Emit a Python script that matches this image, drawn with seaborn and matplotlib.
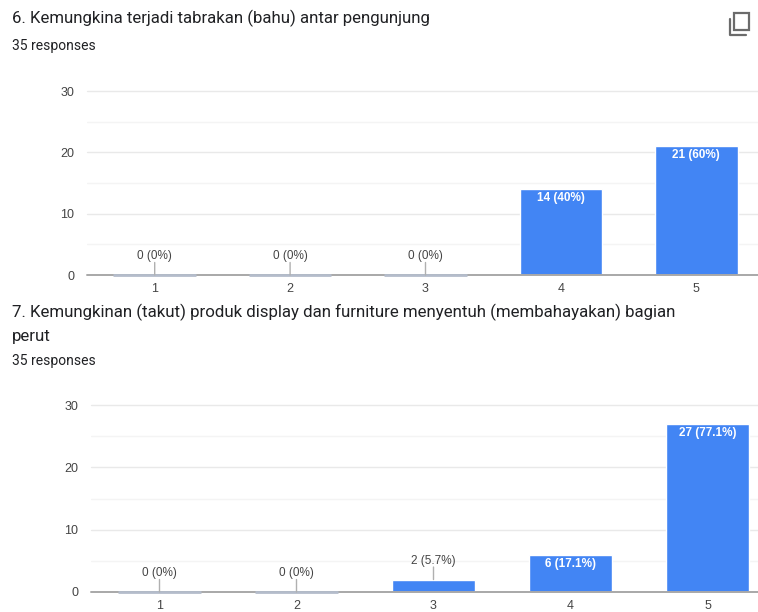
import matplotlib
matplotlib.use("Agg")
import matplotlib.pyplot as plt
import seaborn as sns
import pandas as pd
from matplotlib.patches import Rectangle
from matplotlib.lines import Line2D

sns.set_theme(style="white")
plt.rcParams['font.family'] = ['Liberation Sans', 'DejaVu Sans']

categories = ["1", "2", "3", "4", "5"]
q6_counts = [0, 0, 0, 14, 21]
q6_labels = ["0 (0%)", "0 (0%)", "0 (0%)", "14 (40%)", "21 (60%)"]
q7_counts = [0, 0, 2, 6, 27]
q7_labels = ["0 (0%)", "0 (0%)", "2 (5.7%)", "6 (17.1%)", "27 (77.1%)"]
yticks = [0, 10, 20, 30]
q6_title = "6. Kemungkina terjadi tabrakan (bahu) antar pengunjung"
q7_title = "7. Kemungkinan (takut) produk display dan furniture menyentuh (membahayakan) bagian\nperut"
responses = "35 responses"

BLUE = "#4285f4"
W, H = 758, 612
fig = plt.figure(figsize=(W / 100, H / 100), dpi=100)
fig.patch.set_facecolor("white")


def draw(rect, xmax, counts, labels):
    ax = fig.add_axes(rect)
    df = pd.DataFrame({"cat": categories, "n": counts})
    sns.barplot(data=df, x="cat", y="n", order=categories, color=BLUE,
                saturation=1, width=0.61, ax=ax, zorder=3)
    ax.set_xlim(-0.5, xmax)
    ax.set_ylim(0, 30)
    for s in ax.spines.values():
        s.set_visible(False)
    ax.set_xlabel("")
    ax.set_ylabel("")
    ax.set_yticks(yticks)
    ax.set_yticklabels([str(t) for t in yticks], fontsize=9, color="#444444")
    ax.set_xticks(range(len(categories)))
    ax.set_xticklabels(categories, fontsize=9, color="#444444")
    ax.tick_params(axis="both", length=0)
    ax.tick_params(axis="y", pad=9)
    ax.tick_params(axis="x", pad=6)
    for g in [5, 15, 25]:
        ax.axhline(g, color="#f4f4f4", lw=1, zorder=0)
    for g in [10, 20, 30]:
        ax.axhline(g, color="#e9e9e9", lw=1, zorder=0, clip_on=False)
    ax.axhline(0, color="#a8a8a8", lw=1.4, zorder=4, clip_on=False)
    for i, (c, lab) in enumerate(zip(counts, labels)):
        if c == 0:
            ax.hlines(0, i - 0.305, i + 0.305, color="#b4bccb", lw=2,
                      zorder=5, clip_on=False)
        if c < 4:
            ax.annotate("", xy=(i, c), xytext=(0, 9), textcoords="offset points",
                        arrowprops=dict(arrowstyle="-", color="#b0b0b0", lw=1,
                                        shrinkA=0, shrinkB=0), zorder=6)
            ax.annotate(lab, xy=(i, c), xytext=(0, 13.5), textcoords="offset points",
                        ha="center", va="center", fontsize=8.5, color="#444444",
                        zorder=6)
        else:
            ax.annotate(lab, xy=(i, c), xytext=(0, -6.5), textcoords="offset points",
                        ha="center", va="center", fontsize=8.5, color="white",
                        fontweight="bold", zorder=6)
    return ax


# chart 1: axis x from 87 px, spacing 135.4 px; y 0 at 275, 30 at 91
draw([87 / W, 1 - 275 / H, (W - 87) / W, (275 - 91) / H], -0.5 + (W - 87) / 135.4,
     q6_counts, q6_labels)
# chart 2: axis x from 91 px, spacing 137 px; y 0 at 592, 30 at 405
draw([91 / W, 1 - 592 / H, (W - 91) / W, (592 - 405) / H], -0.5 + (W - 91) / 137,
     q7_counts, q7_labels)

title_font = ['Roboto', 'DejaVu Sans']
fig.text(12 / W, 1 - 18 / H, q6_title, fontsize=12.1, color="#202124",
         family=title_font, va="center", ha="left")
fig.text(12 / W, 1 - 46 / H, responses, fontsize=10, color="#202124",
         family=title_font, va="center", ha="left")
fig.text(12 / W, 1 - 324 / H, q7_title, fontsize=12.2, color="#202124",
         family=title_font, va="center", ha="left", linespacing=1.65)
fig.text(12 / W, 1 - 361 / H, responses, fontsize=10, color="#202124",
         family=title_font, va="center", ha="left")

# copy icon (top right)
ic = "#6b6b6b"
fig.add_artist(Rectangle((734 / W, 1 - 30 / H), 15 / W, 17 / H, fill=False,
                         edgecolor=ic, lw=1.6, transform=fig.transFigure))
fig.add_artist(Line2D([730 / W, 730 / W, 746 / W], [1 - 19 / H, 1 - 35 / H, 1 - 35 / H],
                      color=ic, lw=1.6, transform=fig.transFigure))

fig.savefig("out.png", dpi=100)
